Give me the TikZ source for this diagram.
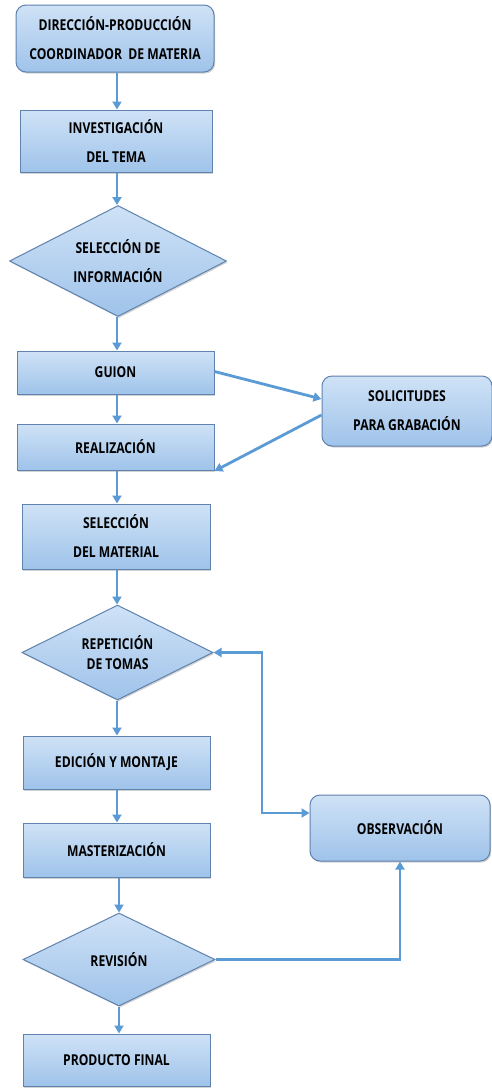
\documentclass[tikz,border=0pt]{standalone}
\usepackage{fontspec}
\newfontfamily\flowfont[FakeStretch=0.81]{Open Sans}
\usetikzlibrary{shapes.geometric,arrows.meta,shadows,calc}
\definecolor{linecol}{HTML}{5B9BD5}
\definecolor{filltop}{HTML}{CFE2F6}
\definecolor{fillbot}{HTML}{9FC3EA}
\definecolor{edgecol}{HTML}{5F82AE}
\tikzset{
  base/.style={draw=edgecol, line width=1pt, top color=filltop, bottom color=fillbot,
    align=center, inner sep=0pt, text=black,
    font=\flowfont\bfseries\fontsize{15}{29}\selectfont,
    drop shadow={opacity=0.35, shadow xshift=1.2pt, shadow yshift=-1.5pt}},
  stepbox/.style={base, rectangle},
  roundbox/.style={base, rectangle, rounded corners=10pt},
  decision/.style={base, diamond, aspect=2},
  arr/.style={draw=linecol, line width=2.8pt, -{Triangle[width=9pt,length=8pt]}},
  arrboth/.style={draw=linecol, line width=2.8pt, {Triangle[width=9pt,length=8pt]}-{Triangle[width=9pt,length=8pt]}},
  plainline/.style={draw=linecol, line width=2.8pt}
}
\begin{document}
\begin{tikzpicture}[x=1pt,y=-1pt]
\useasboundingbox (0,0) rectangle (492,1088);
\fill[white] (0,0) rectangle (492,1088);
\node[roundbox, minimum width=198pt, minimum height=67pt] (dir) at (115,38.5) {DIRECCIÓN-PRODUCCIÓN\\COORDINADOR~~DE MATERIA};
\node[stepbox, minimum width=192pt, minimum height=62pt] (inv) at (116,141) {INVESTIGACIÓN\\DEL TEMA};
\node[decision, minimum width=217pt, minimum height=111pt] (sel) at (118,261) {SELECCIÓN DE\\INFORMACIÓN};
\node[stepbox, minimum width=197pt, minimum height=43pt] (gui) at (115.5,372.5) {GUION};
\node[stepbox, minimum width=197pt, minimum height=46pt] (rea) at (115.5,447) {REALIZACIÓN};
\node[roundbox, minimum width=170pt, minimum height=70pt] (sol) at (407,411) {SOLICITUDES\\PARA GRABACIÓN};
\node[stepbox, minimum width=188pt, minimum height=65pt] (mat) at (116,536.5) {SELECCIÓN\\DEL MATERIAL};
\node[decision, minimum width=191pt, minimum height=95pt, font=\flowfont\bfseries\fontsize{15}{20}\selectfont] (rep) at (117.5,652.5) {REPETICIÓN\\DE TOMAS};
\node[stepbox, minimum width=187pt, minimum height=53pt] (edi) at (116.5,762.5) {EDICIÓN Y MONTAJE};
\node[stepbox, minimum width=187pt, minimum height=54pt] (mas) at (116.5,850) {MASTERIZACIÓN};
\node[roundbox, minimum width=180pt, minimum height=66pt] (obs) at (400,828) {OBSERVACIÓN};
\node[decision, minimum width=192pt, minimum height=93pt] (rev) at (119,959.5) {REVISIÓN};
\node[stepbox, minimum width=187pt, minimum height=52pt] (pro) at (116.5,1060) {PRODUCTO FINAL};
\coordinate (loop) at (262,730);
% main column
\draw[arr] (dir.south -| 117,0) -- (inv.north -| 117,0);
\draw[arr] (inv.south -| 117,0) -- (sel.north -| 117,0);
\draw[arr] (sel.south -| 117,0) -- (gui.north -| 117,0);
\draw[arr] (gui.south -| 117,0) -- (rea.north -| 117,0);
\draw[arr] (rea.south -| 117,0) -- (mat.north -| 117,0);
\draw[arr] (mat.south -| 117,0) -- (rep.north -| 117,0);
\draw[arr] (rep.south -| 117,0) -- (edi.north -| 117,0);
\draw[arr] (edi.south -| 117,0) -- (mas.north -| 117,0);
\draw[arr] (mas.south -| 119,0) -- (rev.north -| 119,0);
\draw[arr] (rev.south -| 119,0) -- (pro.north -| 119,0);
% side branches
\draw[arr] ([yshift=1pt]gui.east) -- ([yshift=12pt]sol.west);
\draw[arr] ([yshift=-4pt]sol.west) -- ([yshift=-24pt]rea.east);
\draw[arrboth] (rep.east) -| (loop) |- ([yshift=15pt]obs.west);
\draw[arr] (rev.east) -| (obs.south);
\end{tikzpicture}
\end{document}
